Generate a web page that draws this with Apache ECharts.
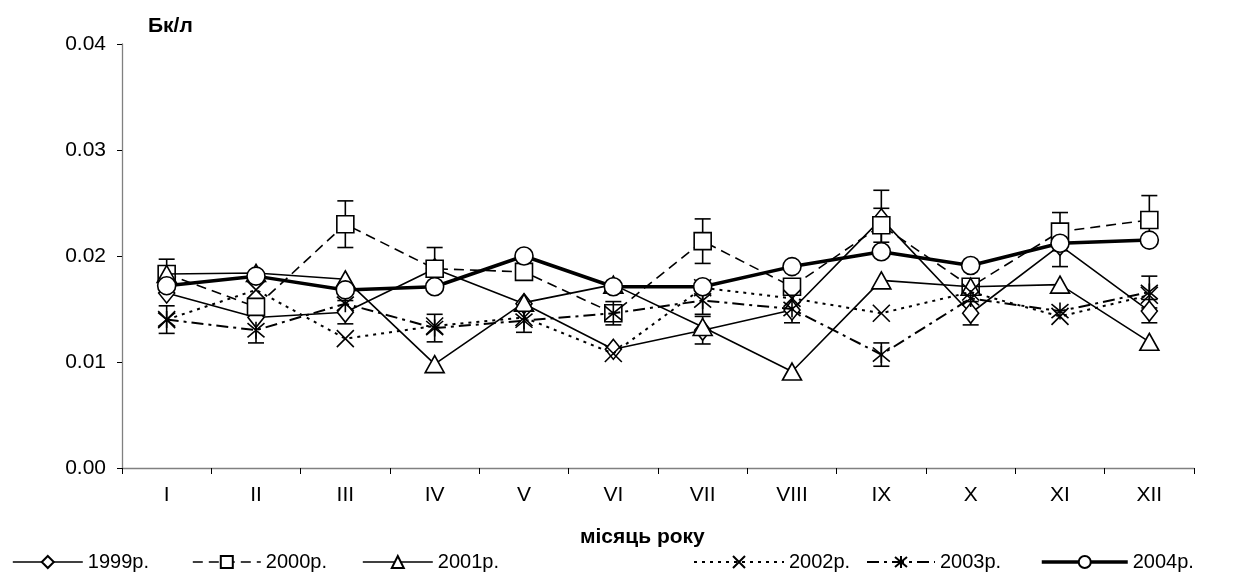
<!DOCTYPE html>
<html>
<head>
<meta charset="utf-8">
<script src="https://cdn.jsdelivr.net/npm/echarts@6/dist/echarts.min.js"></script>
<style>
html,body{margin:0;padding:0;background:#fff;}
#chart{width:1234px;height:588px;}
</style>
</head>
<body>
<div id="chart"></div>
<script>
// ---- data ----
const months = ['I','II','III','IV','V','VI','VII','VIII','IX','X','XI','XII'];
const seriesNames = ['1999р.','2000р.','2001р.','2002р.','2003р.','2004р.'];

const y1999 = [0.0165,0.0142,0.0147,0.0188,0.0155,0.0112,0.0130,0.0149,0.0235,0.0146,0.0210,0.0148];
const y2000 = [0.0183,0.0152,0.0230,0.0188,0.0185,0.0146,0.0214,0.0171,0.0229,0.0171,0.0223,0.0234];
const y2001 = [0.0183,0.0184,0.0178,0.0098,0.0156,0.0173,0.0133,0.0091,0.0177,0.0171,0.0173,0.0119];
const y2002 = [0.0140,0.0168,0.0122,0.0134,0.0142,0.0108,0.0170,0.0160,0.0146,0.0166,0.0143,0.0163];
const y2003 = [0.0140,0.0130,0.0155,0.0132,0.0139,0.0146,0.0158,0.0150,0.0107,0.0160,0.0148,0.0166];
const y2004 = [0.0172,0.0181,0.0168,0.0171,0.0200,0.0171,0.0171,0.0190,0.0204,0.0191,0.0212,0.0215];

// error half-widths (null = no error bar drawn)
const e1999 = [null,null,0.0011,null,null,null,0.0013,null,0.0027,0.0011,0.0020,0.0011];
const e2000 = [0.0014,null,0.0022,0.0020,null,null,0.0021,null,0.0016,null,0.0018,0.0023];
const e2003 = [0.0013,0.0012,null,0.0013,0.0011,0.0011,0.0013,0.0013,0.0011,null,null,0.0015];

const yTicks = [0, 0.01, 0.02, 0.03, 0.04];

// ---- chart ----
const FONT = 'Liberation Sans, Arial, sans-serif';
const chart = echarts.init(document.getElementById('chart'), null, {renderer:'canvas'});

const SYM_X = 'path://M0,0L20,20M20,0L0,20';
const SYM_AST = 'path://M0,0L20,20M20,0L0,20M10,-2L10,22';

function lineSeries(name, data, symbol, size, lineType, width, z) {
  return {
    name: name, type: 'line', data: data,
    symbol: symbol, symbolSize: size, z: z,
    lineStyle: {color:'#000', width: width, type: lineType},
    itemStyle: {color:'#fff', borderColor:'#000', borderWidth:1.6},
    emphasis: {disabled:true},
    animation: false
  };
}

function errSeries(vals, errs) {
  const d = [];
  vals.forEach((v, i) => { if (errs[i] != null) d.push([i, v, errs[i]]); });
  return {
    type: 'custom', data: d, z: 1, silent: true, animation: false,
    encode: {x: 0, y: 1},
    renderItem: function (params, api) {
      const x = api.value(0), v = api.value(1), e = api.value(2);
      const t = api.coord([x, v + e]);
      const b = api.coord([x, v - e]);
      const hw = 8;
      const st = {stroke:'#000', lineWidth:1.6};
      return {type:'group', children:[
        {type:'line', shape:{x1:t[0], y1:t[1], x2:b[0], y2:b[1]}, style:st},
        {type:'line', shape:{x1:t[0]-hw, y1:t[1], x2:t[0]+hw, y2:t[1]}, style:st},
        {type:'line', shape:{x1:b[0]-hw, y1:b[1], x2:b[0]+hw, y2:b[1]}, style:st}
      ]};
    }
  };
}

function legendItem(name, left, w, lw) {
  return {
    data: [name], left: left, top: 552, itemWidth: w, itemHeight: 15,
    selectedMode: false, padding: 0,
    lineStyle: {width: lw},
    textStyle: {fontSize: 20, color:'#000', fontFamily: FONT}
  };
}

const option = {
  backgroundColor: '#fff',
  animation: false,
  title: [
    {text: 'Бк/л', left: 143, top: 11, textStyle:{fontSize:21, fontWeight:'bold', color:'#000', fontFamily:FONT}}
  ],
  graphic: [
    {type:'text', left: 580, top: 527,
     style:{text:'місяць року', fontSize:21, fontWeight:'bold', fill:'#000', fontFamily:FONT}}
  ],
  legend: [
    legendItem(seriesNames[0], 12, 70, 1.6),
    legendItem(seriesNames[1], 192, 68, 1.6),
    legendItem(seriesNames[2], 362, 70, 1.6),
    legendItem(seriesNames[3], 693, 90, 2),
    legendItem(seriesNames[4], 866, 68, 2),
    legendItem(seriesNames[5], 1040, 86, 3.5)
  ],
  grid: {left: 122, right: 40, top: 44, bottom: 120, containLabel: false},
  xAxis: {
    type: 'category', data: months, boundaryGap: true,
    axisLine: {lineStyle:{color:'#808080', width:1.3}},
    axisTick: {show:true, length:6, inside:false, alignWithLabel:false, lineStyle:{color:'#000'}},
    axisLabel: {fontSize:21, color:'#000', margin:17, fontFamily:FONT},
    splitLine: {show:false}
  },
  yAxis: {
    type: 'value', min: yTicks[0], max: yTicks[yTicks.length-1], interval: 0.01,
    axisLine: {show:true, lineStyle:{color:'#808080', width:1.3}},
    axisTick: {show:true, length:5, lineStyle:{color:'#000'}},
    axisLabel: {fontSize:21, color:'#000', margin:16, fontFamily:FONT,
      formatter: v => v.toFixed(2)},
    splitLine: {show:false}
  },
  series: [
    errSeries(y1999, e1999),
    errSeries(y2000, e2000),
    errSeries(y2003, e2003),
    lineSeries(seriesNames[0], y1999, 'diamond', [16,20], 'solid', 1.6, 2),
    lineSeries(seriesNames[1], y2000, 'rect', 17, [10,6], 1.6, 3),
    lineSeries(seriesNames[2], y2001, 'triangle', [19,17], 'solid', 1.6, 4),
    lineSeries(seriesNames[3], y2002, SYM_X, 17, [3,5], 2, 5),
    lineSeries(seriesNames[4], y2003, SYM_AST, 17, [12,5,3,5], 2, 6),
    lineSeries(seriesNames[5], y2004, 'circle', 18, 'solid', 3.5, 7)
  ]
};
chart.setOption(option);
</script>
</body>
</html>
